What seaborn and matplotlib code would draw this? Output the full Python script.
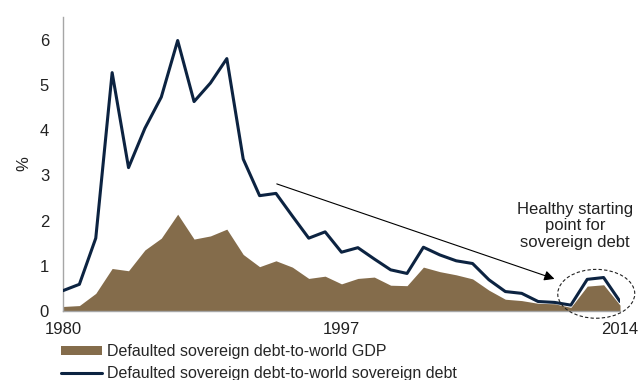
import matplotlib
matplotlib.use("Agg")
import matplotlib.pyplot as plt
from matplotlib.patches import Ellipse
import numpy as np
import pandas as pd
import seaborn as sns

years = list(range(1980, 2015))

# Defaulted sovereign debt as a share of world GDP (%)
debt_to_gdp = [0.10, 0.12, 0.39, 0.94, 0.89, 1.35, 1.61, 2.14, 1.59, 1.66,
               1.81, 1.25, 0.98, 1.11, 0.97, 0.72, 0.77, 0.60, 0.72, 0.75,
               0.57, 0.56, 0.97, 0.87, 0.80, 0.71, 0.46, 0.26, 0.23, 0.17,
               0.16, 0.08, 0.55, 0.58, 0.13]

# Defaulted sovereign debt as a share of world sovereign debt (%)
debt_to_debt = [0.45, 0.59, 1.61, 5.27, 3.17, 4.04, 4.73, 5.98, 4.63, 5.04,
                5.58, 3.36, 2.55, 2.60, 2.10, 1.61, 1.75, 1.30, 1.40, 1.15,
                0.91, 0.83, 1.41, 1.24, 1.11, 1.05, 0.69, 0.43, 0.39, 0.21,
                0.19, 0.13, 0.70, 0.74, 0.21]

x_ticks = [1980, 1997, 2014]
y_ticks = [0, 1, 2, 3, 4, 5, 6]

gdp_label = "Defaulted sovereign debt-to-world GDP"
debt_label = "Defaulted sovereign debt-to-world sovereign debt"
note_text = "Healthy starting\npoint for\nsovereign debt"

df = pd.DataFrame({"year": years, "gdp": debt_to_gdp, "debt": debt_to_debt})

sns.set_style("white")
plt.rcParams["font.family"] = ["Liberation Sans", "DejaVu Sans"]

brown = "#846C4B"
navy = "#0C2341"
grey = "#A6A6A6"
text_color = "#222222"

fig = plt.figure(figsize=(6.39, 3.80), dpi=100)
ax = fig.add_axes([63 / 639, 1 - 311 / 380, (620 - 63) / 639, (311 - 17) / 380])

ax.fill_between(df["year"], 0, df["gdp"], color=brown, linewidth=0,
                label=gdp_label, zorder=2)
sns.lineplot(data=df, x="year", y="debt", ax=ax, color=navy, linewidth=2.2,
             label=debt_label, zorder=3)

ax.set_xlim(1980, 2014)
ax.set_ylim(0, 6.5)
ax.set_xticks(x_ticks)
ax.set_yticks(y_ticks)
ax.tick_params(axis="both", length=0, labelsize=12, colors=text_color)
ax.tick_params(axis="x", pad=8)
ax.tick_params(axis="y", pad=10)
ax.set_xlabel("")
ax.set_ylabel("%", fontsize=12, color=text_color, labelpad=6)

for side in ["top", "right"]:
    ax.spines[side].set_visible(False)
for side in ["left", "bottom"]:
    ax.spines[side].set_color(grey)
    ax.spines[side].set_linewidth(1.0)

# Downward trend arrow
ax.annotate("", xy=(2010.0, 0.71), xytext=(1993.05, 2.81),
            arrowprops=dict(arrowstyle="-|>", color="black", lw=0.8,
                            mutation_scale=15, shrinkA=0, shrinkB=0),
            zorder=4)

# Highlight of the most recent years
ax.add_patch(Ellipse((2012.55, 0.38), width=4.7, height=1.08, fill=False,
                     edgecolor=text_color, linestyle=(0, (3, 2)), linewidth=0.8,
                     clip_on=False, zorder=5))
ax.text(2011.26, 1.88, note_text, ha="center", va="center",
        multialignment="center", fontsize=12, color=text_color,
        linespacing=1.15)

ax.get_legend().remove()
handles, labels = ax.get_legend_handles_labels()
order = [labels.index(gdp_label), labels.index(debt_label)]
fig.legend([handles[i] for i in order], [labels[i] for i in order],
           loc="upper left", bbox_to_anchor=(50 / 639, 1 - 333 / 380),
           frameon=False, fontsize=11.5, handlelength=2.55, handleheight=0.5,
           handletextpad=0.3, labelspacing=0.45, borderpad=0.2)

fig.savefig("out.png", dpi=100)
